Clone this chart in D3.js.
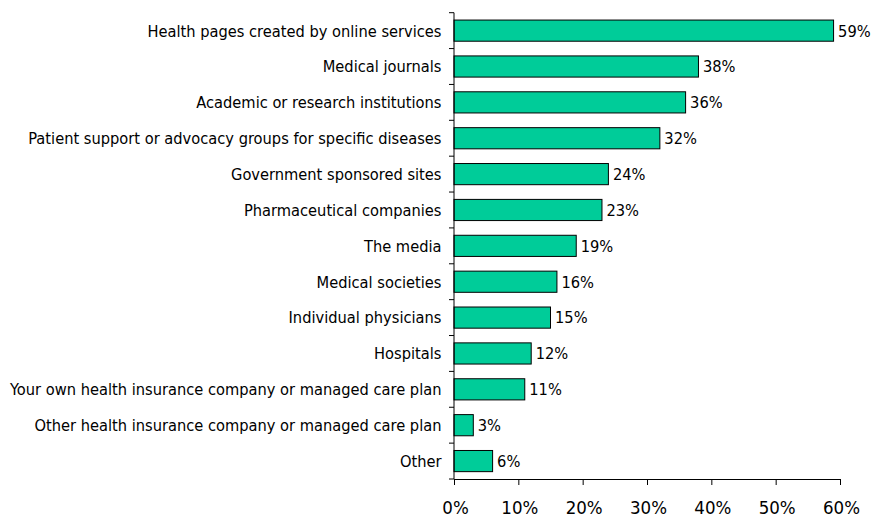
<!DOCTYPE html>
<html>
<head>
<meta charset="utf-8">
<script src="https://cdn.jsdelivr.net/npm/d3@7"></script>
<style>
  html, body { margin: 0; padding: 0; background: #fff; }
  svg { display: block; }
  text { font-family: "DejaVu Sans Condensed", "DejaVu Sans", sans-serif; fill: #000; }
</style>
</head>
<body>
<svg id="chart" width="873" height="514"></svg>
<script>
const categories = [
  "Health pages created by online services",
  "Medical journals",
  "Academic or research institutions",
  "Patient support or advocacy groups for specific diseases",
  "Government sponsored sites",
  "Pharmaceutical companies",
  "The media",
  "Medical societies",
  "Individual physicians",
  "Hospitals",
  "Your own health insurance company or managed care plan",
  "Other health insurance company or managed care plan",
  "Other"
];
const values = [59, 38, 36, 32, 24, 23, 19, 16, 15, 12, 11, 3, 6];
const xTicks = [0, 10, 20, 30, 40, 50, 60];

(function () {
  const svg = d3.select("#chart");
  const plotLeft = 454, plotRight = 840, plotTop = 12.7, plotBottom = 479;
  const labelFont = 16.3;

  const x = d3.scaleLinear().domain([0, 60]).range([plotLeft, plotRight]);
  const y = d3.scaleBand().domain(categories).range([plotTop, plotBottom])
    .paddingInner(0.41).paddingOuter(0.205);

  // bars
  svg.append("g").selectAll("rect")
    .data(values)
    .join("rect")
    .attr("x", x(0))
    .attr("y", (d, i) => y(categories[i]))
    .attr("width", d => x(d) - x(0))
    .attr("height", y.bandwidth())
    .attr("fill", "#00CC99")
    .attr("stroke", "#000")
    .attr("stroke-width", 1);

  // value labels
  svg.append("g").selectAll("text")
    .data(values)
    .join("text")
    .attr("x", d => x(d) + 4.5)
    .attr("y", (d, i) => y(categories[i]) + y.bandwidth() / 2)
    .attr("dy", "0.36em")
    .attr("font-size", labelFont)
    .text(d => d + "%");

  // category axis: ticks between bands, pointing left
  const yAxisG = svg.append("g");
  yAxisG.append("line")
    .attr("x1", plotLeft).attr("x2", plotLeft)
    .attr("y1", plotTop).attr("y2", plotBottom)
    .attr("stroke", "#000");
  const boundaries = d3.range(categories.length + 1)
    .map(i => plotTop + i * (plotBottom - plotTop) / categories.length);
  yAxisG.selectAll("line.tick")
    .data(boundaries)
    .join("line")
    .attr("class", "tick")
    .attr("x1", plotLeft - 5).attr("x2", plotLeft)
    .attr("y1", d => d).attr("y2", d => d)
    .attr("stroke", "#000");
  yAxisG.selectAll("text")
    .data(categories)
    .join("text")
    .attr("x", plotLeft - 12.5)
    .attr("y", d => y(d) + y.bandwidth() / 2)
    .attr("dy", "0.36em")
    .attr("text-anchor", "end")
    .attr("font-size", labelFont)
    .text(d => d);

  // value axis
  const xAxis = d3.axisBottom(x)
    .tickValues(xTicks)
    .tickFormat(d => d + "%")
    .tickSize(6)
    .tickSizeOuter(0);
  const xg = svg.append("g")
    .attr("transform", `translate(0,${plotBottom})`)
    .call(xAxis);
  xg.select(".domain").attr("stroke", "#000");
  xg.selectAll(".tick line").attr("stroke", "#000");
  xg.selectAll(".tick text")
    .attr("font-family", "'DejaVu Sans Condensed', 'DejaVu Sans', sans-serif")
    .attr("font-size", 18.5)
    .attr("fill", "#000")
    .attr("x", 1)
    .attr("y", 21.5);
})();
</script>
</body>
</html>
